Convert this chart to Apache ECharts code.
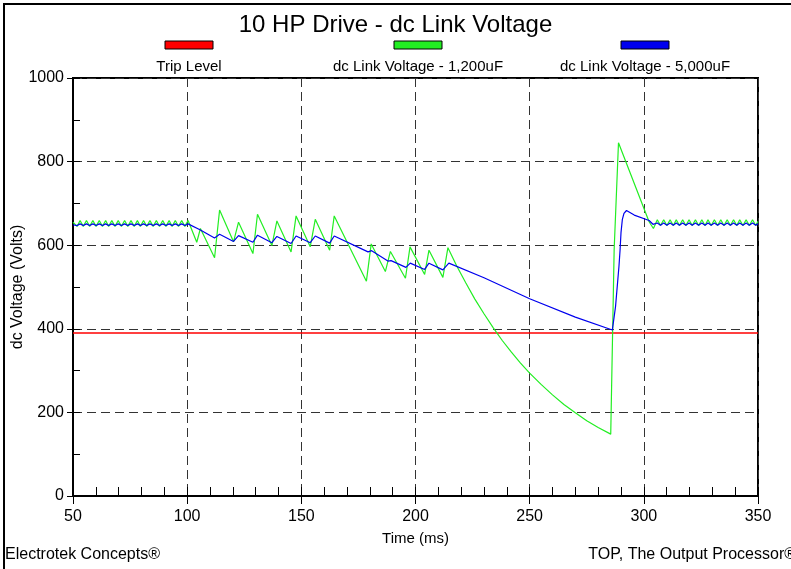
<!DOCTYPE html>
<html>
<head>
<meta charset="utf-8">
<title>10 HP Drive - dc Link Voltage</title>
<script src="https://cdn.jsdelivr.net/npm/echarts@6/dist/echarts.min.js"></script>
<style>
  html, body { margin: 0; padding: 0; background: #fff; }
  #chart { width: 791px; height: 569px; }
</style>
</head>
<body>
<div id="chart"></div>
<script>
var seriesNames = ['Trip Level', 'dc Link Voltage - 1,200uF', 'dc Link Voltage - 5,000uF'];
var seriesColors = ['#ff0000', '#22ee22', '#0000ee'];
var xTicks = [50, 350, 50];      // min, max, step (ms)
var yTicks = [0, 1000, 200];     // min, max, step (V)

// trip level (V)
var tripLevel = [[50, 390], [350, 390]];

// 1,200uF - steady ripple before the sag
var greenBefore = [
  [50, 655], [50.4, 659], [51.8, 645], [53.1, 659], [54.5, 645], [55.9, 659], [57.3, 645],
  [58.7, 659], [60.1, 645], [61.5, 659], [62.9, 645], [64.3, 659], [65.6, 645], [67.0, 659],
  [68.4, 645], [69.8, 659], [71.2, 645], [72.6, 659], [74.0, 645], [75.4, 659], [76.8, 645],
  [78.2, 659], [79.5, 645], [80.9, 659], [82.3, 645], [83.7, 659], [85.1, 645], [86.5, 659],
  [87.9, 645], [89.3, 659], [90.7, 645], [92.1, 659], [93.4, 645], [94.8, 659], [96.2, 645],
  [97.6, 659], [99.0, 645]
];
// 1,200uF - sag and collapse
var greenSag = [
  [100.4, 659], [104.2, 607], [105.8, 640], [112.0, 570], [114.2, 684], [120.3, 608],
  [122.5, 655], [128.8, 580], [130.8, 674], [137.1, 599], [139.3, 658], [145.5, 584],
  [147.7, 670], [153.9, 596], [156.1, 662], [162.4, 588], [164.4, 670], [178.5, 514],
  [180.6, 603], [186.8, 537], [189.0, 585], [195.6, 521], [197.6, 596], [204.0, 530],
  [205.9, 588], [212.0, 523], [214.2, 594], [218.0, 551], [222.0, 510], [226.0, 471],
  [230.0, 436], [234.0, 403], [238.0, 372], [242.0, 344], [246.0, 318], [250.0, 294],
  [255.0, 267], [260.0, 242], [265.0, 219], [270.0, 199], [275.0, 180], [280.0, 164],
  [285.5, 148]
];
// 1,200uF - recovery overshoot
var greenRecovery = [
  [287.0, 589], [288.9, 845], [302.3, 656], [304.2, 640]
];
// 1,200uF - steady ripple after recovery
var greenAfter = [
  [305.9, 661], [307.3, 647], [308.7, 661], [310.1, 647], [311.5, 661], [312.9, 647],
  [314.2, 661], [315.6, 647], [317.0, 661], [318.4, 647], [319.8, 661], [321.2, 647],
  [322.6, 661], [324.0, 647], [325.4, 661], [326.8, 647], [328.1, 661], [329.5, 647],
  [330.9, 661], [332.3, 647], [333.7, 661], [335.1, 647], [336.5, 661], [337.9, 647],
  [339.3, 661], [340.7, 647], [342.0, 661], [343.4, 647], [344.8, 661], [346.2, 647],
  [347.6, 661], [349.0, 647], [350, 657]
];

// 5,000uF - steady ripple before the sag
var blueBefore = [
  [50, 649], [50.4, 651], [51.8, 647], [53.1, 651], [54.5, 647], [55.9, 651], [57.3, 647],
  [58.7, 651], [60.1, 647], [61.5, 651], [62.9, 647], [64.3, 651], [65.6, 647], [67.0, 651],
  [68.4, 647], [69.8, 651], [71.2, 647], [72.6, 651], [74.0, 647], [75.4, 651], [76.8, 647],
  [78.2, 651], [79.5, 647], [80.9, 651], [82.3, 647], [83.7, 651], [85.1, 647], [86.5, 651],
  [87.9, 647], [89.3, 651], [90.7, 647], [92.1, 651], [93.4, 647], [94.8, 651], [96.2, 647],
  [97.6, 651], [99.0, 647]
];
// 5,000uF - sag
var blueSag = [
  [100.4, 651], [105.6, 637], [106.2, 639], [112.0, 617], [114.2, 626], [120.3, 609],
  [122.5, 623], [128.8, 607], [130.8, 624], [137.1, 606], [139.3, 621], [145.5, 604],
  [147.7, 622], [153.9, 606], [156.1, 622], [162.4, 605], [164.4, 622], [179.2, 584],
  [180.8, 587], [187.9, 562], [189.3, 563], [195.8, 547], [197.7, 557], [204.0, 542],
  [205.9, 557], [212.0, 541], [214.6, 557], [230.0, 522], [250.0, 472], [270.0, 428],
  [286.2, 397]
];
// 5,000uF - recovery
var blueRecovery = [
  [287.6, 453], [289.1, 549], [289.6, 589], [290.0, 630], [290.6, 662], [291.3, 676],
  [292.4, 683], [295.8, 672], [302.3, 659], [304.0, 650]
];
// 5,000uF - steady ripple after recovery
var blueAfter = [
  [305.9, 653], [307.3, 648], [308.7, 653], [310.1, 648], [311.5, 653], [312.9, 648],
  [314.2, 653], [315.6, 648], [317.0, 653], [318.4, 648], [319.8, 653], [321.2, 648],
  [322.6, 653], [324.0, 648], [325.4, 653], [326.8, 648], [328.1, 653], [329.5, 648],
  [330.9, 653], [332.3, 648], [333.7, 653], [335.1, 648], [336.5, 653], [337.9, 648],
  [339.3, 653], [340.7, 648], [342.0, 653], [343.4, 648], [344.8, 653], [346.2, 648],
  [347.6, 653], [349.0, 648], [350, 651]
];

var green1200 = greenBefore.concat(greenSag, greenRecovery, greenAfter);
var blue5000 = blueBefore.concat(blueSag, blueRecovery, blueAfter);

var FONT = 'Liberation Sans, Arial, sans-serif';
var chart = echarts.init(document.getElementById('chart'), null, { renderer: 'canvas' });

// legend drawn above its label, as in the original plot
var legendCenters = [189, 418, 645];
var legendGraphics = [];
seriesNames.forEach(function (name, i) {
  legendGraphics.push({
    type: 'rect',
    shape: { x: legendCenters[i] - 24, y: 41, width: 48, height: 8 },
    style: { fill: seriesColors[i], stroke: '#000', lineWidth: 1 }
  });
  legendGraphics.push({
    type: 'text',
    x: legendCenters[i], y: 67,
    style: { text: name, fill: '#000', font: '15px ' + FONT, textAlign: 'center', textVerticalAlign: 'middle' }
  });
});

var gridDash = { color: '#333', type: [9, 5], width: 1 };

var option = {
  backgroundColor: '#fff',
  animation: false,
  title: {
    text: '10 HP Drive - dc Link Voltage',
    left: 'center',
    top: 8,
    textStyle: { fontFamily: FONT, fontSize: 24, fontWeight: 'normal', color: '#000' }
  },
  grid: {
    left: 73, right: 33, top: 78, bottom: 73,
    containLabel: false, outerBoundsMode: 'none',
    show: true, borderColor: '#000', borderWidth: 2
  },
  xAxis: [{
    type: 'value',
    min: xTicks[0], max: xTicks[1], interval: xTicks[2],
    name: 'Time (ms)', nameLocation: 'middle', nameGap: 35, nameMoveOverlap: false,
    nameTextStyle: { fontFamily: FONT, fontSize: 15, color: '#000' },
    axisLine: { show: true, lineStyle: { color: '#000', width: 2 } },
    axisTick: { show: true, inside: true, length: 9, lineStyle: { color: '#000' } },
    minorTick: { show: true, splitNumber: 5, length: 9, lineStyle: { color: '#000' } },
    axisLabel: { fontFamily: FONT, fontSize: 16, color: '#000', margin: 13 },
    splitLine: { show: true, lineStyle: gridDash }
  }, {
    type: 'value', position: 'top',
    min: xTicks[0], max: xTicks[1], interval: xTicks[2],
    axisLine: { show: false },
    axisTick: { show: true, inside: true, length: 8, lineStyle: { color: '#000' } },
    axisLabel: { show: false },
    splitLine: { show: false }
  }],
  yAxis: [{
    type: 'value',
    min: yTicks[0], max: yTicks[1], interval: yTicks[2],
    name: 'dc Voltage (Volts)', nameLocation: 'middle', nameGap: 47, nameRotate: 90,
    nameMoveOverlap: false,
    nameTextStyle: { fontFamily: FONT, fontSize: 16, color: '#000' },
    axisLine: { show: true, lineStyle: { color: '#000', width: 2 } },
    axisTick: { show: true, inside: false, length: 6, lineStyle: { color: '#000' } },
    axisLabel: {
      fontFamily: FONT, fontSize: 16, color: '#000', margin: 9,
      formatter: function (v) { return String(v); }
    },
    splitLine: { show: true, lineStyle: gridDash }
  }, {
    type: 'value', position: 'left',
    min: yTicks[0], max: yTicks[1], interval: yTicks[2] / 2,
    axisLine: { show: false },
    axisTick: { show: true, inside: true, length: 7, lineStyle: { color: '#000' } },
    axisLabel: { show: false },
    splitLine: { show: false }
  }],
  graphic: legendGraphics.concat([
    {
      type: 'polyline',
      shape: { points: [[4, 569], [4, 4], [791, 4]] },
      style: { stroke: '#000', lineWidth: 2, fill: null }
    },
    {
      type: 'text', x: 5, y: 555,
      style: { text: 'Electrotek Concepts\u00ae', fill: '#000', font: '16px ' + FONT, textVerticalAlign: 'middle' }
    },
    {
      type: 'text', x: 796, y: 555,
      style: { text: 'TOP, The Output Processor\u00ae', fill: '#000', font: '16px ' + FONT, textAlign: 'right', textVerticalAlign: 'middle' }
    }
  ]),
  series: [{
    name: seriesNames[0], type: 'line', data: tripLevel,
    showSymbol: false, lineStyle: { color: seriesColors[0], width: 1.5 }, z: 3
  }, {
    name: seriesNames[1], type: 'line', data: green1200,
    showSymbol: false, lineStyle: { color: seriesColors[1], width: 1.2 }, z: 4
  }, {
    name: seriesNames[2], type: 'line', data: blue5000,
    showSymbol: false, lineStyle: { color: seriesColors[2], width: 1.2 }, z: 5
  }]
};

chart.setOption(option);
</script>
</body>
</html>
